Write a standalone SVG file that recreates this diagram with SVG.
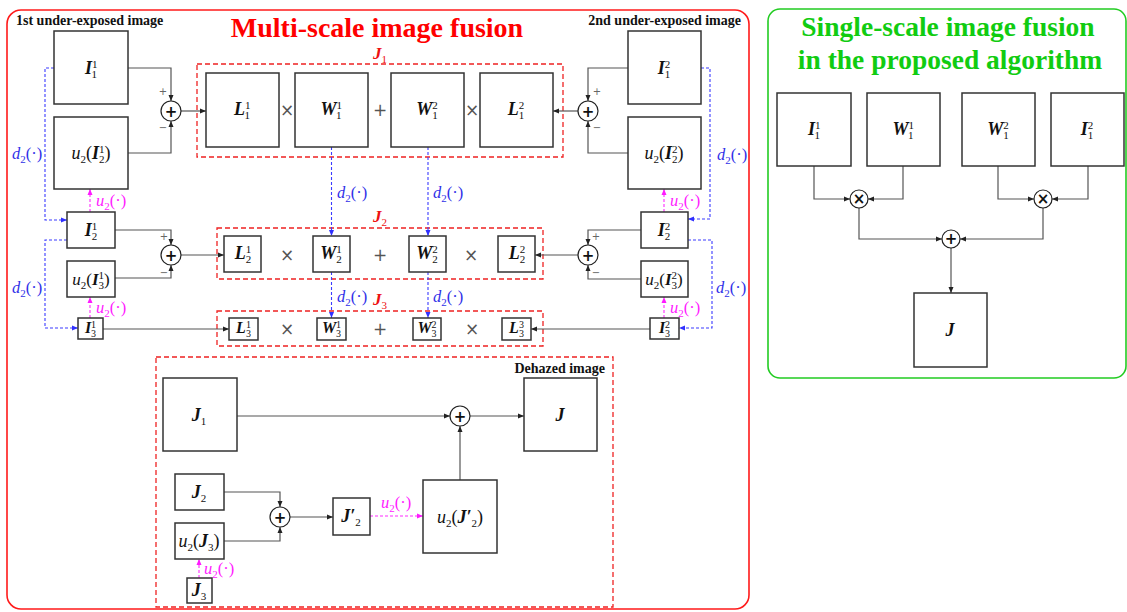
<svg xmlns="http://www.w3.org/2000/svg" width="1127" height="612" viewBox="0 0 1127 612">
<defs>
<style>
.bx{fill:#fff;stroke:#333;stroke-width:1.5}
.ln{fill:none;stroke:#555;stroke-width:1.2}
.d2{fill:none;stroke:#3b3bff;stroke-width:1.1;stroke-dasharray:3 2}
.u2{fill:none;stroke:#ff2bff;stroke-width:1.1;stroke-dasharray:3 2}
.rd{fill:none;stroke:#ee2222;stroke-width:1.3;stroke-dasharray:5 3}
.sum{fill:#fff;stroke:#222;stroke-width:1.2}
.t{font-family:"Liberation Serif",serif;fill:#111}
.mb{font-weight:bold;font-style:italic}
.it{font-style:italic}
.op{font-family:"DejaVu Sans",sans-serif;fill:#555;font-size:17px}
.pm{font-family:"DejaVu Sans",sans-serif;fill:#666;font-size:10px}
.sym{font-family:"DejaVu Sans",sans-serif;fill:#111;font-weight:bold;font-size:15px}
.bl{fill:#3030e8}
.mg{fill:#ff1aff}
.rt{fill:#ee1111}
.hd{font-family:"Liberation Serif",serif;font-weight:bold;font-size:14px;fill:#111}
</style>
<marker id="ah" markerWidth="6" markerHeight="6" refX="6" refY="3" orient="auto" markerUnits="userSpaceOnUse"><path d="M0,0.5 L6,3 L0,5.5 z" fill="#222"/></marker>
<marker id="ahb" markerWidth="6" markerHeight="6" refX="6" refY="3" orient="auto" markerUnits="userSpaceOnUse"><path d="M0,0.5 L6,3 L0,5.5 z" fill="#3030ff"/></marker>
<marker id="ahm" markerWidth="6" markerHeight="6" refX="6" refY="3" orient="auto" markerUnits="userSpaceOnUse"><path d="M0,0.5 L6,3 L0,5.5 z" fill="#ff1aff"/></marker>
</defs>
<rect width="1127" height="612" fill="#fff"/>

<g id="frame-multi">
<rect x="7" y="10" width="742" height="599" rx="14" fill="none" stroke="#ff1a1a" stroke-width="1.6"/>
<text x="377" y="37" text-anchor="middle" font-family="Liberation Serif,serif" font-weight="bold" font-size="28" fill="#ff0000">Multi-scale image fusion</text>
<text x="16" y="25" class="hd">1st under-exposed image</text>
<text x="741" y="25" class="hd" text-anchor="end">2nd under-exposed image</text>
</g>
<g id="frame-single">
<rect x="768" y="9" width="358" height="369" rx="12" fill="none" stroke="#22cc22" stroke-width="1.6"/>
<text x="948" y="36" text-anchor="middle" font-family="Liberation Serif,serif" font-weight="bold" font-size="27.5" fill="#11cc11">Single-scale image fusion</text>
<text x="950" y="69" text-anchor="middle" font-family="Liberation Serif,serif" font-weight="bold" font-size="27.5" fill="#11cc11">in the proposed algorithm</text>
</g>

<g id="J1-group">
<rect class="rd" x="197" y="64" width="366" height="93"/>
<text x="373" y="59" class="t rt" font-size="17"><tspan class="mb">J</tspan><tspan font-size="11" dy="4">1</tspan></text>
<text x="287" y="116" class="op" text-anchor="middle">×</text>
<text x="380" y="116" class="op" text-anchor="middle">+</text>
<text x="472" y="116" class="op" text-anchor="middle">×</text>
</g>
<g id="J2-group">
<rect class="rd" x="217" y="228" width="326" height="51"/>
<text x="373" y="222" class="t rt" font-size="17"><tspan class="mb">J</tspan><tspan font-size="11" dy="4">2</tspan></text>
<text x="287" y="261" class="op" text-anchor="middle">×</text>
<text x="380" y="261" class="op" text-anchor="middle">+</text>
<text x="471" y="261" class="op" text-anchor="middle">×</text>
</g>
<g id="J3-group">
<rect class="rd" x="217" y="311" width="326" height="35"/>
<text x="373" y="305" class="t rt" font-size="17"><tspan class="mb">J</tspan><tspan font-size="11" dy="4">3</tspan></text>
<text x="287" y="335" class="op" text-anchor="middle">×</text>
<text x="380" y="335" class="op" text-anchor="middle">+</text>
<text x="472" y="335" class="op" text-anchor="middle">×</text>
</g>
<g id="dehazed-group">
<rect class="rd" x="156" y="357" width="457" height="250"/>
<text x="605" y="373" class="hd" text-anchor="end">Dehazed image</text>
</g>

<g id="connectors">
<path class="ln" d="M128,68 H171 V101" marker-end="url(#ah)"/>
<path class="ln" d="M128,153 H171 V121" marker-end="url(#ah)"/>
<path class="ln" d="M181,111 H206" marker-end="url(#ah)"/>
<path class="ln" d="M628,68 H588 V101" marker-end="url(#ah)"/>
<path class="ln" d="M628,153 H588 V121" marker-end="url(#ah)"/>
<path class="ln" d="M578,111 H553" marker-end="url(#ah)"/>
<path class="ln" d="M115,230 H171 V245" marker-end="url(#ah)"/>
<path class="ln" d="M115,278 H171 V265" marker-end="url(#ah)"/>
<path class="ln" d="M181,255 H224" marker-end="url(#ah)"/>
<path class="ln" d="M641,230 H588 V245" marker-end="url(#ah)"/>
<path class="ln" d="M641,279 H588 V265" marker-end="url(#ah)"/>
<path class="ln" d="M578,255 H535" marker-end="url(#ah)"/>
<path class="ln" d="M103,329 H229" marker-end="url(#ah)"/>
<path class="ln" d="M650,329 H531" marker-end="url(#ah)"/>

<path class="d2" d="M54,68 H45 V220 H67" marker-end="url(#ahb)"/>
<path class="d2" d="M701,68 H710 V219 H688" marker-end="url(#ahb)"/>
<path class="d2" d="M67,240 H45 V328 H78" marker-end="url(#ahb)"/>
<path class="d2" d="M688,240 H712 V328 H679" marker-end="url(#ahb)"/>
<path class="d2" d="M331.5,147 V236" marker-end="url(#ahb)"/>
<path class="d2" d="M428,147 V236" marker-end="url(#ahb)"/>
<path class="d2" d="M331.5,272 V318" marker-end="url(#ahb)"/>
<path class="d2" d="M428,272 V318" marker-end="url(#ahb)"/>

<path class="u2" d="M90,212 V189" marker-end="url(#ahm)"/>
<path class="u2" d="M664,212 V189" marker-end="url(#ahm)"/>
<path class="u2" d="M90,318 V297" marker-end="url(#ahm)"/>
<path class="u2" d="M664,318 V297" marker-end="url(#ahm)"/>

<path class="ln" d="M237,416 H450" marker-end="url(#ah)"/>
<path class="ln" d="M470,416 H524" marker-end="url(#ah)"/>
<path class="ln" d="M460,480 V426" marker-end="url(#ah)"/>
<path class="ln" d="M224,492 H280 V507" marker-end="url(#ah)"/>
<path class="ln" d="M224,541 H280 V527" marker-end="url(#ah)"/>
<path class="ln" d="M290,517 H333" marker-end="url(#ah)"/>
<path class="u2" d="M370,516 H423" marker-end="url(#ahm)"/>
<path class="u2" d="M199,578 V559" marker-end="url(#ahm)"/>

<path class="ln" d="M814,166 V199 H850" marker-end="url(#ah)"/>
<path class="ln" d="M903,166 V199 H868" marker-end="url(#ah)"/>
<path class="ln" d="M998,166 V199 H1034" marker-end="url(#ah)"/>
<path class="ln" d="M1088,166 V199 H1052" marker-end="url(#ah)"/>
<path class="ln" d="M859,208 V239 H942" marker-end="url(#ah)"/>
<path class="ln" d="M1043,208 V239 H960" marker-end="url(#ah)"/>
<path class="ln" d="M951,248 V293" marker-end="url(#ah)"/>

<text x="163" y="95" class="pm" text-anchor="middle">+</text>
<text x="163" y="131" class="pm" text-anchor="middle">−</text>
<text x="597" y="95" class="pm" text-anchor="middle">+</text>
<text x="597" y="131" class="pm" text-anchor="middle">−</text>
<text x="164" y="240" class="pm" text-anchor="middle">+</text>
<text x="164" y="276" class="pm" text-anchor="middle">−</text>
<text x="596" y="240" class="pm" text-anchor="middle">+</text>
<text x="596" y="276" class="pm" text-anchor="middle">−</text>

<text x="12" y="159" class="t bl" font-size="16.5"><tspan class="it">d</tspan><tspan font-size="11" dy="4">2</tspan><tspan dy="-4">(·)</tspan></text>
<text x="717" y="160" class="t bl" font-size="16.5"><tspan class="it">d</tspan><tspan font-size="11" dy="4">2</tspan><tspan dy="-4">(·)</tspan></text>
<text x="12" y="293" class="t bl" font-size="16.5"><tspan class="it">d</tspan><tspan font-size="11" dy="4">2</tspan><tspan dy="-4">(·)</tspan></text>
<text x="716" y="293" class="t bl" font-size="16.5"><tspan class="it">d</tspan><tspan font-size="11" dy="4">2</tspan><tspan dy="-4">(·)</tspan></text>
<text x="337" y="198" class="t bl" font-size="16.5"><tspan class="it">d</tspan><tspan font-size="11" dy="4">2</tspan><tspan dy="-4">(·)</tspan></text>
<text x="433" y="198" class="t bl" font-size="16.5"><tspan class="it">d</tspan><tspan font-size="11" dy="4">2</tspan><tspan dy="-4">(·)</tspan></text>
<text x="337" y="302" class="t bl" font-size="16.5"><tspan class="it">d</tspan><tspan font-size="11" dy="4">2</tspan><tspan dy="-4">(·)</tspan></text>
<text x="433" y="302" class="t bl" font-size="16.5"><tspan class="it">d</tspan><tspan font-size="11" dy="4">2</tspan><tspan dy="-4">(·)</tspan></text>

<text x="96" y="206" class="t mg" font-size="16.5"><tspan class="it">u</tspan><tspan font-size="11" dy="4">2</tspan><tspan dy="-4">(·)</tspan></text>
<text x="670" y="206" class="t mg" font-size="16.5"><tspan class="it">u</tspan><tspan font-size="11" dy="4">2</tspan><tspan dy="-4">(·)</tspan></text>
<text x="96" y="313" class="t mg" font-size="16.5"><tspan class="it">u</tspan><tspan font-size="11" dy="4">2</tspan><tspan dy="-4">(·)</tspan></text>
<text x="670" y="313" class="t mg" font-size="16.5"><tspan class="it">u</tspan><tspan font-size="11" dy="4">2</tspan><tspan dy="-4">(·)</tspan></text>
<text x="381" y="508" class="t mg" font-size="16.5"><tspan class="it">u</tspan><tspan font-size="11" dy="4">2</tspan><tspan dy="-4">(·)</tspan></text>
<text x="204" y="574" class="t mg" font-size="16.5"><tspan class="it">u</tspan><tspan font-size="11" dy="4">2</tspan><tspan dy="-4">(·)</tspan></text>
</g>

<g id="I11"><rect class="bx" x="54" y="31" width="74" height="73"/>
<text x="91" y="74" class="t" font-size="18" text-anchor="middle"><tspan class="mb">I</tspan><tspan font-size="11" dy="-6">1</tspan><tspan font-size="11" dx="-5.5" dy="10">1</tspan></text></g>
<g id="u2I21"><rect class="bx" x="54" y="117" width="74" height="72"/>
<text x="91" y="159" class="t" font-size="18" text-anchor="middle"><tspan class="it">u</tspan><tspan font-size="11" dy="4">2</tspan><tspan dy="-4">(</tspan><tspan class="mb">I</tspan><tspan font-size="11" dy="-6">1</tspan><tspan font-size="11" dx="-5.5" dy="10">2</tspan><tspan dy="-4">)</tspan></text></g>
<g id="sum1L"><circle class="sum" cx="171" cy="111" r="10"/><text x="171" y="116.5" class="sym" text-anchor="middle">+</text></g>
<g id="I21"><rect class="bx" x="67" y="212" width="48" height="36"/>
<text x="91" y="236" class="t" font-size="18" text-anchor="middle"><tspan class="mb">I</tspan><tspan font-size="11" dy="-6">1</tspan><tspan font-size="11" dx="-5.5" dy="10">2</tspan></text></g>
<g id="u2I31"><rect class="bx" x="67" y="261" width="48" height="36"/>
<text x="91" y="285" class="t" font-size="17" text-anchor="middle"><tspan class="it">u</tspan><tspan font-size="11" dy="4">2</tspan><tspan dy="-4">(</tspan><tspan class="mb">I</tspan><tspan font-size="11" dy="-6">1</tspan><tspan font-size="11" dx="-5.5" dy="10">3</tspan><tspan dy="-4">)</tspan></text></g>
<g id="sum2L"><circle class="sum" cx="171" cy="255" r="10"/><text x="171" y="260.5" class="sym" text-anchor="middle">+</text></g>
<g id="I31"><rect class="bx" x="78" y="318" width="25" height="21"/>
<text x="90.5" y="333" class="t" font-size="16" text-anchor="middle"><tspan class="mb">I</tspan><tspan font-size="10" dy="-5">1</tspan><tspan font-size="10" dx="-5" dy="9">3</tspan></text></g>

<g id="I12"><rect class="bx" x="628" y="31" width="73" height="73"/>
<text x="664" y="74" class="t" font-size="18" text-anchor="middle"><tspan class="mb">I</tspan><tspan font-size="11" dy="-6">2</tspan><tspan font-size="11" dx="-5.5" dy="10">1</tspan></text></g>
<g id="u2I22"><rect class="bx" x="628" y="117" width="73" height="72"/>
<text x="664" y="159" class="t" font-size="18" text-anchor="middle"><tspan class="it">u</tspan><tspan font-size="11" dy="4">2</tspan><tspan dy="-4">(</tspan><tspan class="mb">I</tspan><tspan font-size="11" dy="-6">2</tspan><tspan font-size="11" dx="-5.5" dy="10">2</tspan><tspan dy="-4">)</tspan></text></g>
<g id="sum1R"><circle class="sum" cx="588" cy="111" r="10"/><text x="588" y="116.5" class="sym" text-anchor="middle">+</text></g>
<g id="I22"><rect class="bx" x="641" y="212" width="47" height="36"/>
<text x="664" y="236" class="t" font-size="18" text-anchor="middle"><tspan class="mb">I</tspan><tspan font-size="11" dy="-6">2</tspan><tspan font-size="11" dx="-5.5" dy="10">2</tspan></text></g>
<g id="u2I32"><rect class="bx" x="641" y="261" width="47" height="36"/>
<text x="664" y="285" class="t" font-size="17" text-anchor="middle"><tspan class="it">u</tspan><tspan font-size="11" dy="4">2</tspan><tspan dy="-4">(</tspan><tspan class="mb">I</tspan><tspan font-size="11" dy="-6">2</tspan><tspan font-size="11" dx="-5.5" dy="10">3</tspan><tspan dy="-4">)</tspan></text></g>
<g id="sum2R"><circle class="sum" cx="588" cy="255" r="10"/><text x="588" y="260.5" class="sym" text-anchor="middle">+</text></g>
<g id="I32"><rect class="bx" x="650" y="318" width="29" height="21"/>
<text x="664.5" y="333" class="t" font-size="16" text-anchor="middle"><tspan class="mb">I</tspan><tspan font-size="10" dy="-5">2</tspan><tspan font-size="10" dx="-5" dy="9">3</tspan></text></g>

<g id="L11"><rect class="bx" x="206" y="73" width="73" height="74"/>
<text x="242" y="115" class="t" font-size="18" text-anchor="middle"><tspan class="mb">L</tspan><tspan font-size="11" dy="-6">1</tspan><tspan font-size="11" dx="-5.5" dy="10">1</tspan></text></g>
<g id="W11"><rect class="bx" x="295" y="73" width="73" height="74"/>
<text x="331" y="115" class="t" font-size="18" text-anchor="middle"><tspan class="mb">W</tspan><tspan font-size="11" dy="-6">1</tspan><tspan font-size="11" dx="-5.5" dy="10">1</tspan></text></g>
<g id="W12"><rect class="bx" x="391" y="73" width="73" height="74"/>
<text x="427" y="115" class="t" font-size="18" text-anchor="middle"><tspan class="mb">W</tspan><tspan font-size="11" dy="-6">2</tspan><tspan font-size="11" dx="-5.5" dy="10">1</tspan></text></g>
<g id="L12"><rect class="bx" x="480" y="73" width="73" height="74"/>
<text x="516" y="115" class="t" font-size="18" text-anchor="middle"><tspan class="mb">L</tspan><tspan font-size="11" dy="-6">2</tspan><tspan font-size="11" dx="-5.5" dy="10">1</tspan></text></g>

<g id="L21"><rect class="bx" x="224" y="236" width="37" height="36"/>
<text x="243" y="259" class="t" font-size="18" text-anchor="middle"><tspan class="mb">L</tspan><tspan font-size="11" dy="-6">1</tspan><tspan font-size="11" dx="-5.5" dy="10">2</tspan></text></g>
<g id="W21"><rect class="bx" x="313" y="236" width="37" height="36"/>
<text x="331" y="259" class="t" font-size="18" text-anchor="middle"><tspan class="mb">W</tspan><tspan font-size="11" dy="-6">1</tspan><tspan font-size="11" dx="-5.5" dy="10">2</tspan></text></g>
<g id="W22"><rect class="bx" x="409" y="236" width="37" height="36"/>
<text x="427" y="259" class="t" font-size="18" text-anchor="middle"><tspan class="mb">W</tspan><tspan font-size="11" dy="-6">2</tspan><tspan font-size="11" dx="-5.5" dy="10">2</tspan></text></g>
<g id="L22"><rect class="bx" x="498" y="236" width="37" height="36"/>
<text x="517" y="259" class="t" font-size="18" text-anchor="middle"><tspan class="mb">L</tspan><tspan font-size="11" dy="-6">2</tspan><tspan font-size="11" dx="-5.5" dy="10">2</tspan></text></g>

<g id="L31"><rect class="bx" x="229" y="318" width="29" height="22"/>
<text x="243.5" y="333" class="t" font-size="16" text-anchor="middle"><tspan class="mb">L</tspan><tspan font-size="10" dy="-5">1</tspan><tspan font-size="10" dx="-5" dy="9">3</tspan></text></g>
<g id="W31"><rect class="bx" x="317" y="318" width="29" height="22"/>
<text x="331.5" y="333" class="t" font-size="16" text-anchor="middle"><tspan class="mb">W</tspan><tspan font-size="10" dy="-5">1</tspan><tspan font-size="10" dx="-5" dy="9">3</tspan></text></g>
<g id="W32"><rect class="bx" x="413" y="318" width="28" height="22"/>
<text x="427" y="333" class="t" font-size="16" text-anchor="middle"><tspan class="mb">W</tspan><tspan font-size="10" dy="-5">2</tspan><tspan font-size="10" dx="-5" dy="9">3</tspan></text></g>
<g id="L33"><rect class="bx" x="502" y="318" width="29" height="22"/>
<text x="516.5" y="333" class="t" font-size="16" text-anchor="middle"><tspan class="mb">L</tspan><tspan font-size="10" dy="-5">3</tspan><tspan font-size="10" dx="-5" dy="9">3</tspan></text></g>

<g id="J1b"><rect class="bx" x="163" y="378" width="74" height="73"/>
<text x="199" y="421" class="t" font-size="18" text-anchor="middle"><tspan class="mb">J</tspan><tspan font-size="11" dy="4">1</tspan></text></g>
<g id="Jout"><rect class="bx" x="524" y="378" width="73" height="73"/>
<text x="560" y="421" class="t mb" font-size="18" text-anchor="middle">J</text></g>
<g id="sumD"><circle class="sum" cx="460" cy="416" r="10"/><text x="460" y="421.5" class="sym" text-anchor="middle">+</text></g>
<g id="u2J2p"><rect class="bx" x="423" y="480" width="74" height="73"/>
<text x="460" y="523" class="t" font-size="18" text-anchor="middle"><tspan class="it">u</tspan><tspan font-size="11" dy="4">2</tspan><tspan dy="-4">(</tspan><tspan class="mb">J′</tspan><tspan font-size="11" dy="4">2</tspan><tspan dy="-4">)</tspan></text></g>
<g id="J2b"><rect class="bx" x="175" y="474" width="49" height="36"/>
<text x="199" y="498" class="t" font-size="18" text-anchor="middle"><tspan class="mb">J</tspan><tspan font-size="11" dy="4">2</tspan></text></g>
<g id="u2J3"><rect class="bx" x="175" y="523" width="49" height="36"/>
<text x="199" y="547" class="t" font-size="18" text-anchor="middle"><tspan class="it">u</tspan><tspan font-size="11" dy="4">2</tspan><tspan dy="-4">(</tspan><tspan class="mb">J</tspan><tspan font-size="11" dy="4">3</tspan><tspan dy="-4">)</tspan></text></g>
<g id="sumD2"><circle class="sum" cx="280" cy="517" r="10"/><text x="280" y="522.5" class="sym" text-anchor="middle">+</text></g>
<g id="J2p"><rect class="bx" x="333" y="498" width="37" height="37"/>
<text x="351" y="522" class="t" font-size="18" text-anchor="middle"><tspan class="mb">J′</tspan><tspan font-size="11" dy="4">2</tspan></text></g>
<g id="J3b"><rect class="bx" x="187" y="578" width="25" height="25"/>
<text x="199" y="596" class="t" font-size="18" text-anchor="middle"><tspan class="mb">J</tspan><tspan font-size="11" dy="4">3</tspan></text></g>

<g id="rI11"><rect class="bx" x="777" y="93" width="74" height="73"/>
<text x="814" y="135" class="t" font-size="18" text-anchor="middle"><tspan class="mb">I</tspan><tspan font-size="11" dy="-6">1</tspan><tspan font-size="11" dx="-5.5" dy="10">1</tspan></text></g>
<g id="rW11"><rect class="bx" x="867" y="93" width="73" height="73"/>
<text x="903" y="135" class="t" font-size="18" text-anchor="middle"><tspan class="mb">W</tspan><tspan font-size="11" dy="-6">1</tspan><tspan font-size="11" dx="-5.5" dy="10">1</tspan></text></g>
<g id="rW12"><rect class="bx" x="962" y="93" width="73" height="73"/>
<text x="998" y="135" class="t" font-size="18" text-anchor="middle"><tspan class="mb">W</tspan><tspan font-size="11" dy="-6">2</tspan><tspan font-size="11" dx="-5.5" dy="10">1</tspan></text></g>
<g id="rI12"><rect class="bx" x="1051" y="93" width="73" height="73"/>
<text x="1087" y="135" class="t" font-size="18" text-anchor="middle"><tspan class="mb">I</tspan><tspan font-size="11" dy="-6">2</tspan><tspan font-size="11" dx="-5.5" dy="10">1</tspan></text></g>
<g id="mul1"><circle class="sum" cx="859" cy="199" r="9"/><text x="859" y="204" class="sym" font-weight="normal" text-anchor="middle">×</text></g>
<g id="mul2"><circle class="sum" cx="1043" cy="199" r="9"/><text x="1043" y="204" class="sym" font-weight="normal" text-anchor="middle">×</text></g>
<g id="sumR"><circle class="sum" cx="951" cy="239" r="9"/><text x="951" y="244" class="sym" text-anchor="middle">+</text></g>
<g id="rJ"><rect class="bx" x="914" y="293" width="73" height="74"/>
<text x="950" y="336" class="t mb" font-size="18" text-anchor="middle">J</text></g>
</svg>
